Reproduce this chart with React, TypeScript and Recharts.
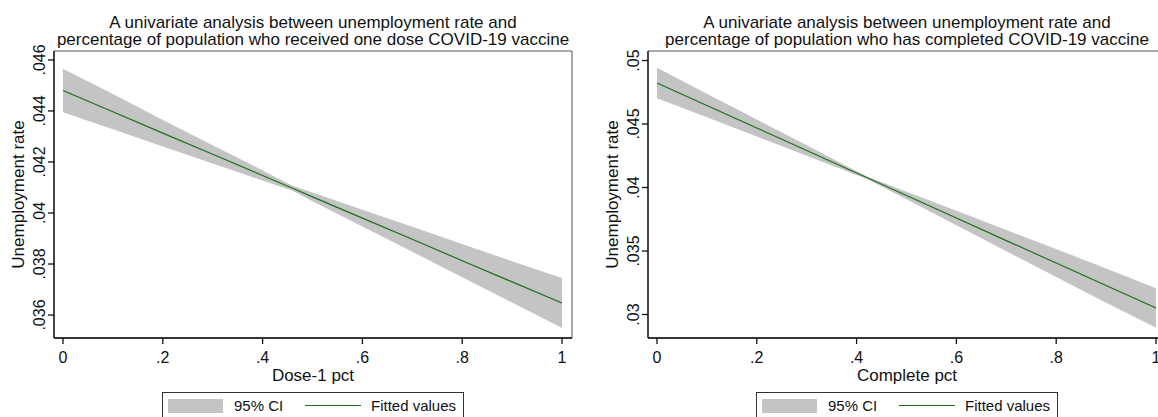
import React from "react";
import {
  ComposedChart,
  Area,
  Line,
  XAxis,
  YAxis,
  ReferenceArea,
} from "recharts";

const FONT = '"Liberation Sans", Arial, sans-serif';
const BAND_COLOR = "#c4c4c4";
const FIT_COLOR = "#1b6e1b";
const INK = "#111";

// x grid the fit was evaluated on
const doseX = [0, 0.1, 0.2, 0.3, 0.4, 0.46, 0.5, 0.6, 0.7, 0.8, 0.9, 1];
const doseFit = [0.0448, 0.04397, 0.04313, 0.0423, 0.04147, 0.04097, 0.04063, 0.0398, 0.03897, 0.03813, 0.0373, 0.03647];
const doseLo = [0.04395, 0.04328, 0.04261, 0.04194, 0.04127, 0.04087, 0.04046, 0.03947, 0.03848, 0.03748, 0.03649, 0.03549];
const doseHi = [0.04565, 0.04466, 0.04365, 0.04266, 0.04167, 0.04107, 0.0408, 0.04013, 0.03946, 0.03878, 0.03811, 0.03745];

const completeX = [0, 0.1, 0.2, 0.3, 0.4, 0.42, 0.5, 0.6, 0.7, 0.8, 0.9, 1];
const completeFit = [0.04823, 0.04646, 0.04469, 0.04292, 0.04114, 0.04079, 0.03937, 0.0376, 0.03582, 0.03405, 0.03228, 0.03051];
const completeLo = [0.04703, 0.04553, 0.04402, 0.04251, 0.04099, 0.04069, 0.03907, 0.03703, 0.03499, 0.03295, 0.03093, 0.02895];
const completeHi = [0.04943, 0.04739, 0.04536, 0.04333, 0.04129, 0.04089, 0.03967, 0.03817, 0.03665, 0.03515, 0.03363, 0.03207];

const xTicks = [0, 0.2, 0.4, 0.6, 0.8, 1];
const doseYTicks = [0.036, 0.038, 0.04, 0.042, 0.044, 0.046];
const completeYTicks = [0.03, 0.035, 0.04, 0.045, 0.05];

const X_DOMAIN: [number, number] = [-0.018, 1.02];
const DOSE_Y_DOMAIN: [number, number] = [0.0351, 0.04635];
const COMPLETE_Y_DOMAIN: [number, number] = [0.02815, 0.05075];

const stataNum = (v: number) => String(v).replace(/^0\./, ".");

function YTick(props: any) {
  const { x, y, payload } = props;
  return (
    <text
      transform={`translate(${x},${y}) rotate(-90)`}
      textAnchor="middle"
      fontSize={16}
      fontFamily={FONT}
      fill={INK}
    >
      {stataNum(payload.value)}
    </text>
  );
}

interface PanelProps {
  left: number;
  title: string[];
  xLabel: string;
  xs: number[];
  fit: number[];
  lo: number[];
  hi: number[];
  yDomain: [number, number];
  yTicks: number[];
}

function Panel({ left, title, xLabel, xs, fit, lo, hi, yDomain, yTicks }: PanelProps) {
  const rows = xs.map((x, i) => ({ x, fit: fit[i], band: [lo[i], hi[i]] }));

  return (
    <div style={{ position: "absolute", left, top: 0, width: 579, height: 417 }}>
      <div
        style={{
          position: "absolute",
          left: 54,
          top: 13.6,
          width: 518,
          textAlign: "center",
          fontFamily: FONT,
          fontSize: 17,
          lineHeight: "17px",
          color: INK,
          whiteSpace: "nowrap",
        }}
      >
        {title.map((t) => (
          <div key={t}>{t}</div>
        ))}
      </div>

      <ComposedChart
        width={579}
        height={417}
        data={rows}
        margin={{ top: 51, right: 7, bottom: 0, left: 0 }}
      >
        <XAxis
          dataKey="x"
          type="number"
          domain={X_DOMAIN}
          allowDataOverflow
          ticks={xTicks}
          tickFormatter={stataNum}
          height={79}
          tickSize={6}
          tickMargin={8}
          stroke={INK}
          strokeWidth={1.3}
          tick={{ fontSize: 16, fontFamily: FONT, fill: INK }}
          label={(p: any) => {
            const vb = p.viewBox;
            return (
              <text
                x={vb.x + vb.width / 2}
                y={vb.y + 43}
                textAnchor="middle"
                fontSize={17}
                fontFamily={FONT}
                fill={INK}
              >
                {xLabel}
              </text>
            );
          }}
        />
        <YAxis
          type="number"
          domain={yDomain}
          allowDataOverflow
          ticks={yTicks}
          width={54}
          tickSize={6}
          tickMargin={3}
          stroke={INK}
          strokeWidth={1.3}
          tick={<YTick />}
          label={(p: any) => {
            const vb = p.viewBox;
            return (
              <text
                transform={`translate(${vb.x + 24},${vb.y + vb.height / 2}) rotate(-90)`}
                textAnchor="middle"
                fontSize={17}
                fontFamily={FONT}
                fill={INK}
              >
                Unemployment rate
              </text>
            );
          }}
        />
        <Area
          dataKey="band"
          type="linear"
          stroke="none"
          fill={BAND_COLOR}
          fillOpacity={1}
          isAnimationActive={false}
        />
        <Line
          dataKey="fit"
          type="linear"
          stroke={FIT_COLOR}
          strokeWidth={1.2}
          dot={false}
          isAnimationActive={false}
        />
        <ReferenceArea
          x1={X_DOMAIN[0]}
          x2={X_DOMAIN[1]}
          y1={yDomain[0]}
          y2={yDomain[1]}
          fill="none"
          stroke="#555"
          strokeWidth={1}
        />
      </ComposedChart>

      <div
        style={{
          position: "absolute",
          left: 162,
          top: 392,
          width: 302,
          height: 30,
          boxSizing: "border-box",
          border: "1px solid #333",
          fontFamily: FONT,
          fontSize: 15,
          color: INK,
        }}
      >
        <div style={{ position: "absolute", left: 5, top: 6, width: 55, height: 14, background: BAND_COLOR }} />
        <span style={{ position: "absolute", left: 71, top: 4, lineHeight: "17px" }}>95% CI</span>
        <div style={{ position: "absolute", left: 142, top: 12, width: 56, height: 1.3, background: FIT_COLOR }} />
        <span style={{ position: "absolute", left: 208, top: 4, lineHeight: "17px" }}>Fitted values</span>
      </div>
    </div>
  );
}

export default function App() {
  return (
    <div style={{ position: "relative", width: 1158, height: 417, overflow: "hidden", background: "#fff" }}>
      <style>{`body{margin:0}`}</style>
      <Panel
        left={0}
        title={[
          "A univariate analysis between unemployment rate and",
          "percentage of population who received one dose COVID-19 vaccine",
        ]}
        xLabel="Dose-1 pct"
        xs={doseX}
        fit={doseFit}
        lo={doseLo}
        hi={doseHi}
        yDomain={DOSE_Y_DOMAIN}
        yTicks={doseYTicks}
      />
      <Panel
        left={594}
        title={[
          "A univariate analysis between unemployment rate and",
          "percentage of population who has completed COVID-19 vaccine",
        ]}
        xLabel="Complete pct"
        xs={completeX}
        fit={completeFit}
        lo={completeLo}
        hi={completeHi}
        yDomain={COMPLETE_Y_DOMAIN}
        yTicks={completeYTicks}
      />
    </div>
  );
}
